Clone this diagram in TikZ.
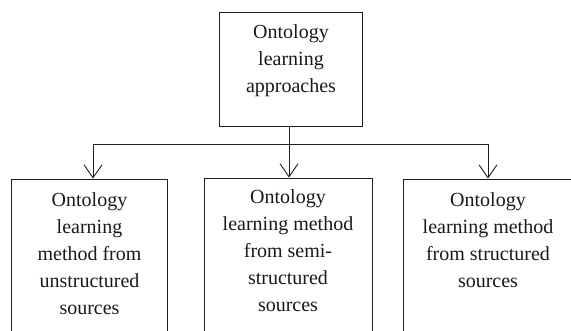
\documentclass[tikz,border=0pt]{standalone}
\usepackage{fontspec}
\setmainfont{Liberation Serif}
\usetikzlibrary{arrows.meta,calc}
\begin{document}
\begin{tikzpicture}[x=1pt,y=-1pt,
  boxstyle/.style={draw=black!88,line width=0.9pt,rectangle,inner sep=0pt},
  txt/.style={anchor=north,inner sep=0pt,align=center,font=\fontsize{20}{27}\selectfont,text=black!90},
  conn/.style={draw=black!88,line width=0.9pt},
  arr/.style={conn,-{Straight Barb[length=13pt,width=18pt,line width=0.9pt]}}]
\useasboundingbox (0,0) rectangle (571,330);
\clip (0,0) rectangle (571,330);
\node[boxstyle,minimum width=143pt,minimum height=114pt] (top) at (290.5,69) {};
\node[boxstyle,minimum width=156pt,minimum height=166pt] (left) at (89,262) {};
\node[boxstyle,minimum width=168pt,minimum height=167pt] (mid) at (288,261.5) {};
\node[boxstyle,minimum width=170pt,minimum height=166pt] (right) at (488,262) {};
\node[txt] (ttop) at (291,24) {Ontology\\learning\\approaches};
\node[txt] (tleft) at (89.5,192) {Ontology\\learning\\method from\\unstructured\\sources};
\node[txt] (tmid) at (288,189) {Ontology\\learning method\\from semi-\\structured\\sources};
\node[txt] (tright) at (488,192) {Ontology\\learning method\\from structured\\sources};
\coordinate (j) at (289,144);
\draw[arr] (top.south -| j) -- (mid.north -| j);
\draw[arr] (j) -| ([xshift=4pt]left.north);
\draw[arr] (j) -| (right.north);
\end{tikzpicture}
\end{document}
